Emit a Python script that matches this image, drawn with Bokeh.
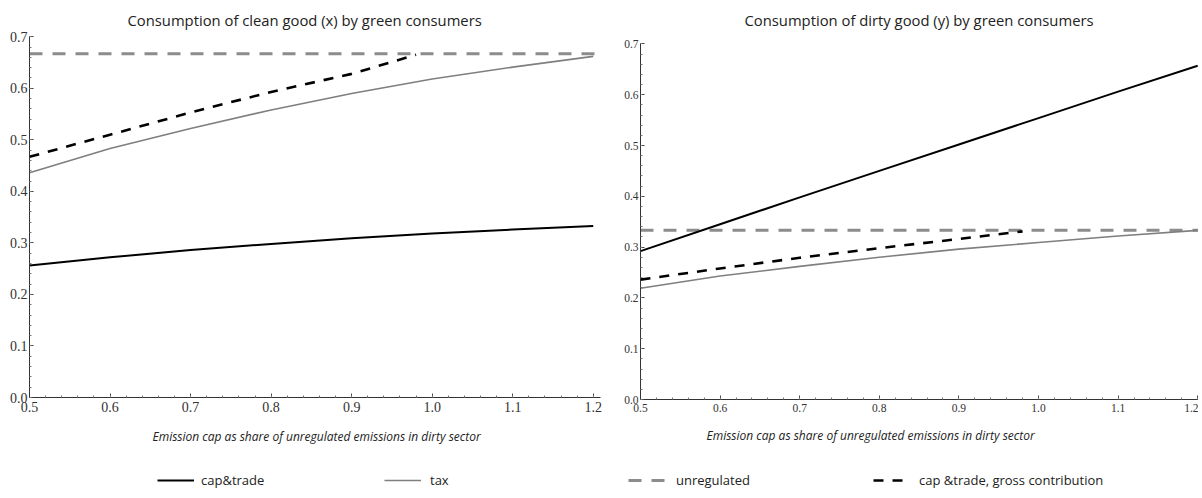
from bokeh.plotting import figure
from bokeh.models import (Range1d, Title, Legend, LegendItem, SingleIntervalTicker,
                          LinearAxis, PrintfTickFormatter)
from bokeh.layouts import column, row
from bokeh.embed import file_html
from bokeh.resources import INLINE

# ---- data ----
cap_share = [0.5, 0.6, 0.7, 0.8, 0.9, 1.0, 1.1, 1.2]
gross_share = [0.5, 0.6, 0.7, 0.8, 0.9, 0.98]

clean_captrade = [0.256, 0.272, 0.286, 0.298, 0.309, 0.318, 0.326, 0.333]
clean_tax = [0.436, 0.483, 0.522, 0.558, 0.590, 0.618, 0.641, 0.662]
clean_gross = [0.467, 0.510, 0.553, 0.593, 0.628, 0.665]
clean_unregulated = 0.667

dirty_captrade = [0.292, 0.345, 0.398, 0.450, 0.502, 0.554, 0.606, 0.657]
dirty_tax = [0.219, 0.243, 0.262, 0.280, 0.296, 0.309, 0.322, 0.333]
dirty_gross = [0.236, 0.258, 0.279, 0.298, 0.316, 0.331]
dirty_unregulated = 0.333

titles = ["Consumption of clean good (x) by green consumers",
          "Consumption of dirty good (y) by green consumers"]
xlabel = "Emission cap as share of unregulated  emissions in dirty sector"
legend_labels = ["cap&trade", "tax", "unregulated", "cap &trade, gross contribution"]

TITLE_FONT = "Open Sans"
TICK_FONT = "Liberation Serif"

styles = {
    "captrade": dict(line_color="#000000", line_width=2),
    "tax": dict(line_color="#7f7f7f", line_width=1.6),
    "unreg": dict(line_color="#8c8c8c", line_width=3, line_dash="13 10"),
    "gross": dict(line_color="#000000", line_width=2.6, line_dash="10 9"),
}


def panel(width, height, xmax, ymax, mbl, mbr, tick_size, title, title_offset,
          label_offset, label_standoff, captrade, tax, gross, unreg):
    p = figure(width=width, height=height, x_range=Range1d(0.5, xmax),
               y_range=Range1d(0, ymax), output_backend="svg", toolbar_location=None,
               min_border_left=mbl, min_border_right=mbr, min_border_top=36,
               min_border_bottom=64, x_axis_type=None, y_axis_type=None)
    p.outline_line_color = None
    p.xgrid.visible = False
    p.ygrid.visible = False
    for loc in ("below", "left"):
        ax = LinearAxis(ticker=SingleIntervalTicker(interval=0.1, num_minor_ticks=5),
                        formatter=PrintfTickFormatter(format="%.1f"))
        if loc == "left":
            ax.bounds = (0, 0.7005)
        ax.axis_line_color = "#333333"
        ax.major_tick_in = 4
        ax.major_tick_out = 0
        ax.minor_tick_in = 2
        ax.minor_tick_out = 0
        ax.major_tick_line_color = "#444444"
        ax.minor_tick_line_color = "#777777"
        ax.major_label_text_font = TICK_FONT
        ax.major_label_text_font_size = tick_size
        ax.major_label_text_color = "#333333"
        ax.major_label_standoff = 2 if loc == "left" else 4
        p.add_layout(ax, loc)
    p.title.text = title
    p.title.text_font = TITLE_FONT
    p.title.text_font_size = "14.8px"
    p.title.text_font_style = "normal"
    p.title.text_color = "#222222"
    p.title.align = "left"
    p.title.offset = title_offset
    p.title.standoff = 13

    p.line([0.5, xmax], [unreg, unreg], **styles["unreg"])
    p.line(cap_share, tax, **styles["tax"])
    p.line(gross_share, gross, **styles["gross"])
    p.line(cap_share, captrade, **styles["captrade"])

    t = Title(text=xlabel, align="left", offset=label_offset, text_font=TITLE_FONT,
              text_font_size="12px", text_font_style="italic", text_color="#222222",
              standoff=label_standoff)
    p.add_layout(t, "below")
    return p


p1 = panel(620, 461, 1.209, 0.7005, 29, 20, "14px", titles[0], 98, 123, 22,
           clean_captrade, clean_tax, clean_gross, clean_unregulated)
p2 = panel(578, 463, 1.201, 0.7146, 20, 0, "11.5px", titles[1], 104, 66, 20,
           dirty_captrade, dirty_tax, dirty_gross, dirty_unregulated)

# legend strip
lg = figure(width=1198, height=27, x_range=Range1d(0, 1), y_range=Range1d(0, 1),
            output_backend="svg", toolbar_location=None, min_border=0,
            x_axis_type=None, y_axis_type=None)
lg.outline_line_color = None
lg.xgrid.visible = False
lg.ygrid.visible = False
keys = ["captrade", "tax", "unreg", "gross"]
xpos = [157, 384, 628, 873]
standoffs = [7, 9, 11, 9]
for key, lab, xp, so in zip(keys, legend_labels, xpos, standoffs):
    r = lg.line([-5, -4], [-5, -4], **styles[key])
    leg = Legend(items=[LegendItem(label=lab, renderers=[r])], location=(xp, 0),
                 padding=0, margin=0, spacing=0, glyph_width=37, glyph_height=20,
                 label_standoff=so, label_text_font=TITLE_FONT, label_text_font_size="13px",
                 label_text_color="#222222", border_line_alpha=0, background_fill_alpha=0)
    lg.add_layout(leg, "center")

layout = column(row(p1, p2), lg)
open("out.html", "w").write(file_html(layout, INLINE))
